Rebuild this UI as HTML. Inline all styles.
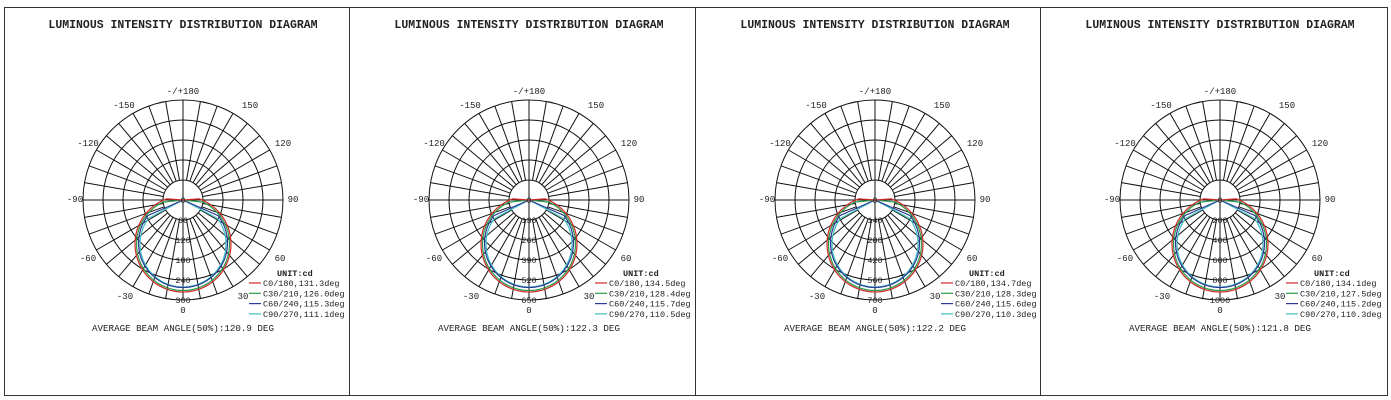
<!DOCTYPE html>
<html><head><meta charset="utf-8"><style>
body{margin:0;background:#fff;}
svg{display:block;}
text{font-family:"Liberation Mono",monospace;fill:#222;}
</style></head><body>
<svg id="s" width="1391" height="400" xmlns="http://www.w3.org/2000/svg"></svg>
<script>
const s=document.getElementById('s');
const P=[
 {cx:183,lab:[60,120,180,240,300],leg:['C0/180,131.3deg','C30/210,126.0deg','C60/240,115.3deg','C90/270,111.1deg'],avg:'120.9'},
 {cx:529,lab:[130,260,390,520,650],leg:['C0/180,134.5deg','C30/210,128.4deg','C60/240,115.7deg','C90/270,110.5deg'],avg:'122.3'},
 {cx:875,lab:[140,280,420,560,700],leg:['C0/180,134.7deg','C30/210,128.3deg','C60/240,115.6deg','C90/270,110.3deg'],avg:'122.2'},
 {cx:1220,lab:[200,400,600,800,1000],leg:['C0/180,134.1deg','C30/210,127.5deg','C60/240,115.2deg','C90/270,110.3deg'],avg:'121.8'}];
const cols=['#d02828','#2a9a48','#2a3a98','#40c0c0'];
const ser=[[44,48,94],[44,46.5,84],[43,44.5,66],[44,43,62]];
let h='';
[[4,7,345],[349,7,346],[695,7,345],[1040,7,347]].forEach(b=>{h+=`<rect x="${b[0]+.5}" y="${b[1]+.5}" width="${b[2]}" height="388" fill="none" stroke="#333" stroke-width="1"/>`;});
P.forEach(p=>{
 const cx=p.cx,cy=200;
 h+=`<text x="${cx}" y="28" font-size="11.5" font-weight="bold" text-anchor="middle" font-family="Liberation Mono">LUMINOUS INTENSITY DISTRIBUTION DIAGRAM</text>`;
 for(let r=20;r<=100;r+=20)h+=`<circle cx="${cx}" cy="${cy}" r="${r}" fill="none" stroke="#111" stroke-width="1"/>`;
 for(let a=0;a<360;a+=10){const t=a*Math.PI/180;const r0=(a%90==0)?0:20;
  h+=`<line x1="${(cx+r0*Math.sin(t)).toFixed(1)}" y1="${(cy+r0*Math.cos(t)).toFixed(1)}" x2="${(cx+100*Math.sin(t)).toFixed(1)}" y2="${(cy+100*Math.cos(t)).toFixed(1)}" stroke="#111" stroke-width="1"/>`;}
 [3,2,1,0].forEach(i=>{const [dd,R,cut]=ser[i];let d='M'+cx+','+cy;
  for(let a=-cut;a<=cut;a+=2){const t=a*Math.PI/180;const r=dd*Math.cos(t)+Math.sqrt(Math.max(0,R*R-dd*dd*Math.sin(t)**2));
  d+='L'+(cx+r*Math.sin(t)).toFixed(1)+','+(cy+r*Math.cos(t)).toFixed(1);}
  d+='L'+cx+','+cy;
  h+=`<path d="${d}" fill="none" stroke="${cols[i]}" stroke-width="1.2"/>`;});
 p.lab.forEach((v,k)=>{h+=`<text x="${cx}" y="${cy+20*(k+1)+3}" font-size="8.5" text-anchor="middle">${v}</text>`;});
 h+=`<text x="${cx}" y="${cy+3}" font-size="8.5" text-anchor="middle">0</text>`;
 const al=[['-/+180',0,94],['150',67,108],['-150',-59,108],['120',100,146],['-120',-95,146],['90',110,202],['-90',-108,202],['60',97,261],['-60',-95,261],['30',60,299],['-30',-58,299],['0',0,313]];
 al.forEach(l=>{h+=`<text x="${cx+l[1]}" y="${l[2]}" font-size="9" text-anchor="middle">${l[0]}</text>`;});
 h+=`<text x="${cx+94}" y="276" font-size="8.5" font-weight="bold">UNIT:cd</text>`;
 p.leg.forEach((t,i)=>{const y=283+10.3*i;h+=`<line x1="${cx+66}" y1="${y}" x2="${cx+78}" y2="${y}" stroke="${cols[i]}" stroke-width="1.2"/><text x="${cx+80}" y="${y+3}" font-size="8.5">${t}</text>`;});
 h+=`<text x="${cx}" y="331" font-size="9.2" text-anchor="middle">AVERAGE BEAM ANGLE(50%):${p.avg} DEG</text>`;
});
s.innerHTML=h;
</script>
</body></html>
